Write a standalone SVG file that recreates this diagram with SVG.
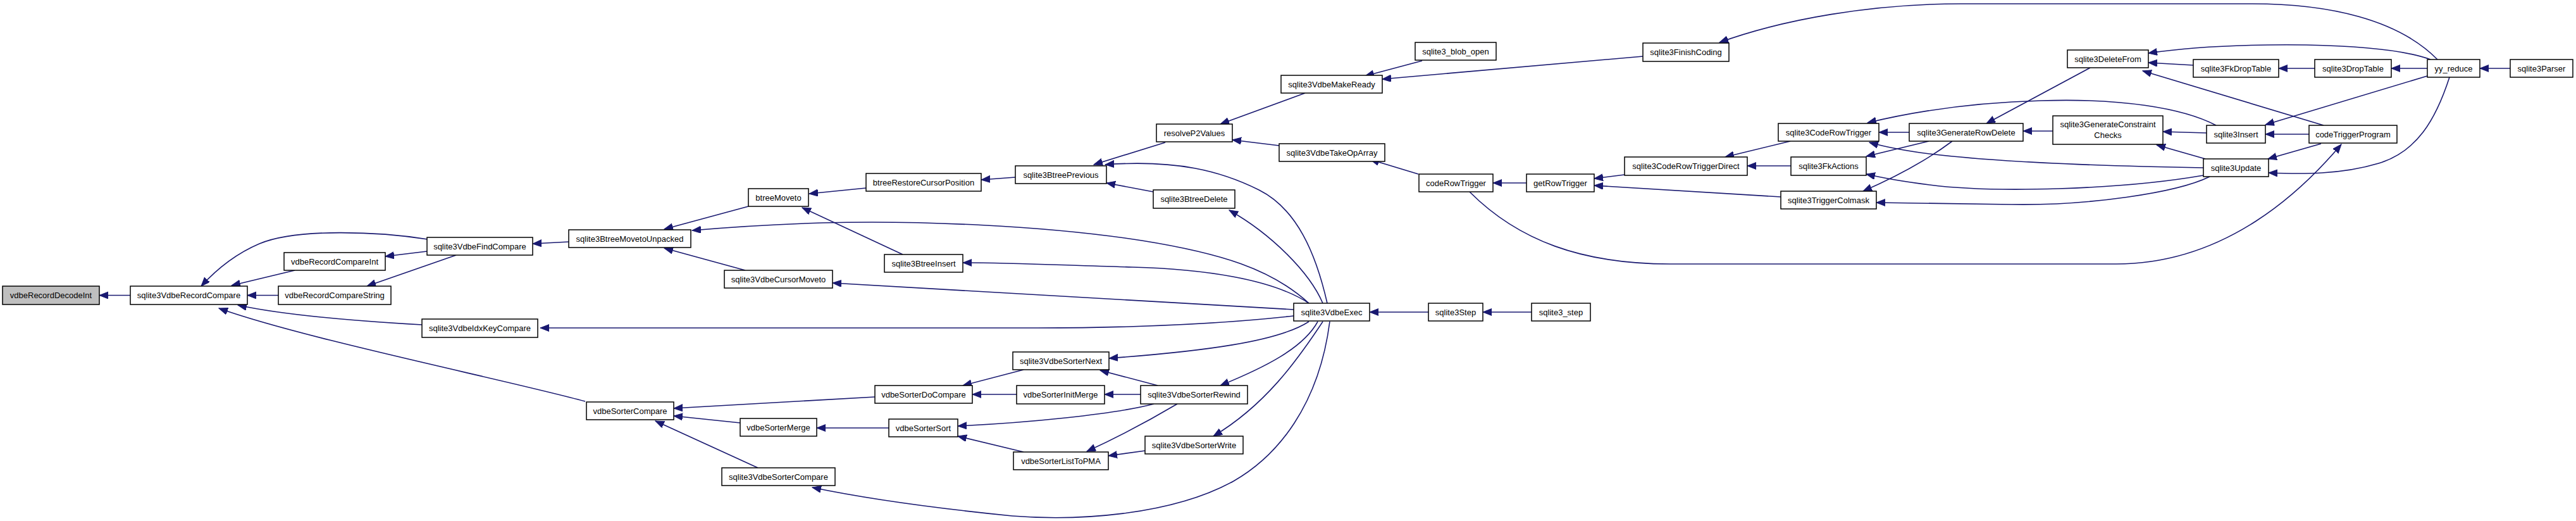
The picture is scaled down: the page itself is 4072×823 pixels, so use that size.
<svg xmlns="http://www.w3.org/2000/svg" width="4072" height="823" viewBox="0 0 4072 823">
<style>
.n rect{fill:#fff;stroke:#000;stroke-width:1.5}
.n.cur rect{fill:#bfbfbf}
.n text{font-family:"Liberation Sans",Arial,Helvetica,sans-serif;font-size:13px;fill:#000;text-anchor:middle}
#edges path{fill:none;stroke:#191970;stroke-width:1.6;marker-end:url(#ah)}
</style>
<defs>
<marker id="ah" markerUnits="userSpaceOnUse" markerWidth="15" markerHeight="12" refX="14" refY="5.5" orient="auto">
<path d="M0,0 L14,5.5 L0,11 z" fill="#191970" stroke="#191970" stroke-width="1"/>
</marker>
</defs>
<rect width="4072" height="823" fill="#fff"/>
<g id="edges">
<path d="M206,466.5 L157,466.5"/>
<path d="M676,378 C600,366 470,360 410,385 C370,402 340,428 318,452"/>
<path d="M466,427 L366,451"/>
<path d="M440,466.5 L391,466.5"/>
<path d="M675,397 L609,405"/>
<path d="M721,403 L580,452"/>
<path d="M667,513 C560,507 450,498 376,482"/>
<path d="M925,634 C800,600 480,535 346,487"/>
<path d="M899,382 L842,385"/>
<path d="M1183,326 L1050,362"/>
<path d="M1178,427 L1050,392"/>
<path d="M2069,479 C2010,425 1930,400 1805,380 C1650,356 1450,348 1300,352 C1200,355 1140,360 1094,364"/>
<path d="M1369,297 L1279,306"/>
<path d="M1427,402 L1268,328"/>
<path d="M1605,280 L1551,284"/>
<path d="M1842,225 L1729,260"/>
<path d="M2098,479 C2080,400 2050,330 1990,300 C1930,270 1860,252 1747,260"/>
<path d="M1823,303 L1749,289"/>
<path d="M2091,479 C2070,430 2010,370 1943,332"/>
<path d="M2063,147 L1929,196"/>
<path d="M2022,230 L1948,221"/>
<path d="M2248,96 L2158,120"/>
<path d="M2597,89 L2185,125"/>
<path d="M3853,94 C3790,30 3680,6 3560,6 L3100,6 C2960,6 2820,30 2718,67"/>
<path d="M2242,275 L2166,252"/>
<path d="M2413,289 L2360,289"/>
<path d="M2568,276 L2520,282"/>
<path d="M2815,311 L2520,293"/>
<path d="M2830,223 L2727,248"/>
<path d="M2831,262 L2762,262"/>
<path d="M3018,209 L2970,209"/>
<path d="M3503,198 C3450,170 3350,155 3227,159 C3120,162 3030,175 2952,194"/>
<path d="M3483,265 C3300,262 3150,255 3050,243 C3010,238 2980,232 2955,225"/>
<path d="M3049,223 L2950,247"/>
<path d="M3483,277 C3350,300 3150,305 3050,292 C3010,287 2980,282 2950,275"/>
<path d="M3086,223 Q3030,265 2945,302"/>
<path d="M3493,279 C3440,305 3300,325 3180,323 C3080,322 3010,320 2966,320"/>
<path d="M3304,107 L3140,195"/>
<path d="M3245,207 L3198,207"/>
<path d="M3488,210 L3419,208"/>
<path d="M3486,251 L3409,229"/>
<path d="M3842,94 C3790,75 3700,72 3646,71 C3560,70 3470,73 3396,84"/>
<path d="M3467,103 L3396,99"/>
<path d="M3673,198 L3387,112"/>
<path d="M3659,108 L3602,108"/>
<path d="M3837,108 L3780,108"/>
<path d="M3968,108 L3920,108"/>
<path d="M3837,120 L3581,197"/>
<path d="M3650,212 L3581,212"/>
<path d="M3669,227 L3585,251"/>
<path d="M3872,122 C3850,190 3820,240 3760,258 C3700,276 3640,275 3586,273"/>
<path d="M2323,303 C2400,380 2500,417 2640,417 L3345,417 C3520,417 3640,300 3701,228"/>
<path d="M2069,479 C2010,440 1900,425 1790,422 C1680,419 1600,415 1522,415"/>
<path d="M2045,489 L1316,447"/>
<path d="M2045,499 C1900,515 1760,518 1640,518 L854,518"/>
<path d="M2258,493 L2165,493"/>
<path d="M2421,493 L2344,493"/>
<path d="M2069,508 C2020,540 1900,555 1753,566"/>
<path d="M2083,508 C2060,550 2000,580 1929,609"/>
<path d="M2091,508 C2050,570 2000,640 1918,689"/>
<path d="M2102,508 C2085,640 2020,720 1950,760 C1850,815 1700,823 1600,815 C1500,805 1380,790 1284,770"/>
<path d="M1618,584 L1522,609"/>
<path d="M1830,609 L1739,585"/>
<path d="M1607,623 L1537,623"/>
<path d="M1803,623 L1746,623"/>
<path d="M1824,638 C1760,655 1620,668 1514,673"/>
<path d="M1861,638 Q1790,680 1718,713"/>
<path d="M1618,714 L1514,689"/>
<path d="M1810,712 L1752,720"/>
<path d="M1383,627 L1065,645"/>
<path d="M1170,668 L1065,657"/>
<path d="M1198,739 L1036,665"/>
<path d="M1405,676 L1291,676"/>
</g>
<g id="n1" class="n cur"><rect x="4" y="452" width="153" height="29"/><text x="80.5" y="471">vdbeRecordDecodeInt</text></g>
<g id="n2" class="n"><rect x="206" y="452" width="185" height="29"/><text x="298.5" y="471">sqlite3VdbeRecordCompare</text></g>
<g id="n3" class="n"><rect x="449" y="399" width="160" height="28"/><text x="529" y="417.5">vdbeRecordCompareInt</text></g>
<g id="n4" class="n"><rect x="440" y="452" width="178" height="29"/><text x="529" y="471">vdbeRecordCompareString</text></g>
<g id="n5" class="n"><rect x="675" y="375" width="167" height="28"/><text x="758.5" y="393.5">sqlite3VdbeFindCompare</text></g>
<g id="n6" class="n"><rect x="667" y="504" width="183" height="29"/><text x="758.5" y="523">sqlite3VdbeIdxKeyCompare</text></g>
<g id="n7" class="n"><rect x="899" y="363" width="193" height="28"/><text x="995.5" y="381.5">sqlite3BtreeMovetoUnpacked</text></g>
<g id="n8" class="n"><rect x="1183" y="298" width="95" height="28"/><text x="1230.5" y="316.5">btreeMoveto</text></g>
<g id="n9" class="n"><rect x="1145" y="427" width="171" height="28"/><text x="1230.5" y="445.5">sqlite3VdbeCursorMoveto</text></g>
<g id="n10" class="n"><rect x="1369" y="274" width="182" height="28"/><text x="1460" y="292.5">btreeRestoreCursorPosition</text></g>
<g id="n11" class="n"><rect x="1398" y="402" width="124" height="28"/><text x="1460" y="420.5">sqlite3BtreeInsert</text></g>
<g id="n12" class="n"><rect x="1605" y="262" width="144" height="28"/><text x="1677" y="280.5">sqlite3BtreePrevious</text></g>
<g id="n13" class="n"><rect x="1823" y="300" width="129" height="29"/><text x="1887.5" y="319">sqlite3BtreeDelete</text></g>
<g id="n14" class="n"><rect x="1828" y="196" width="120" height="28"/><text x="1888" y="214.5">resolveP2Values</text></g>
<g id="n15" class="n"><rect x="2025" y="119" width="160" height="28"/><text x="2105" y="137.5">sqlite3VdbeMakeReady</text></g>
<g id="n16" class="n"><rect x="2022" y="227" width="167" height="28"/><text x="2105.5" y="245.5">sqlite3VdbeTakeOpArray</text></g>
<g id="n17" class="n"><rect x="2237" y="67" width="128" height="28"/><text x="2301" y="85.5">sqlite3_blob_open</text></g>
<g id="n18" class="n"><rect x="2597" y="68" width="136" height="29"/><text x="2665" y="87">sqlite3FinishCoding</text></g>
<g id="n19" class="n"><rect x="2243" y="275" width="117" height="28"/><text x="2301.5" y="293.5">codeRowTrigger</text></g>
<g id="n20" class="n"><rect x="2413" y="275" width="107" height="28"/><text x="2466.5" y="293.5">getRowTrigger</text></g>
<g id="n21" class="n"><rect x="2568" y="248" width="194" height="29"/><text x="2665" y="267">sqlite3CodeRowTriggerDirect</text></g>
<g id="n22" class="n"><rect x="2811" y="195" width="159" height="28"/><text x="2890.5" y="213.5">sqlite3CodeRowTrigger</text></g>
<g id="n23" class="n"><rect x="2831" y="248" width="119" height="29"/><text x="2890.5" y="267">sqlite3FkActions</text></g>
<g id="n24" class="n"><rect x="2815" y="302" width="151" height="28"/><text x="2890.5" y="320.5">sqlite3TriggerColmask</text></g>
<g id="n25" class="n"><rect x="3018" y="195" width="180" height="28"/><text x="3108" y="213.5">sqlite3GenerateRowDelete</text></g>
<g id="n26" class="n"><rect x="3268" y="79" width="128" height="28"/><text x="3332" y="97.5">sqlite3DeleteFrom</text></g>
<g id="n27" class="n"><rect x="3245" y="183" width="174" height="45"/><text x="3332" y="201">sqlite3GenerateConstraint</text><text x="3332" y="218">Checks</text></g>
<g id="n28" class="n"><rect x="3488" y="198" width="93" height="28"/><text x="3534.5" y="216.5">sqlite3Insert</text></g>
<g id="n29" class="n"><rect x="3483" y="251" width="103" height="28"/><text x="3534.5" y="269.5">sqlite3Update</text></g>
<g id="n30" class="n"><rect x="3467" y="94" width="135" height="28"/><text x="3534.5" y="112.5">sqlite3FkDropTable</text></g>
<g id="n31" class="n"><rect x="3659" y="94" width="121" height="28"/><text x="3719.5" y="112.5">sqlite3DropTable</text></g>
<g id="n32" class="n"><rect x="3650" y="198" width="139" height="28"/><text x="3719.5" y="216.5">codeTriggerProgram</text></g>
<g id="n33" class="n"><rect x="3837" y="94" width="83" height="28"/><text x="3878.5" y="112.5">yy_reduce</text></g>
<g id="n34" class="n"><rect x="3968" y="94" width="99" height="28"/><text x="4017.5" y="112.5">sqlite3Parser</text></g>
<g id="n35" class="n"><rect x="2045" y="479" width="120" height="28"/><text x="2105" y="497.5">sqlite3VdbeExec</text></g>
<g id="n36" class="n"><rect x="2258" y="479" width="86" height="28"/><text x="2301" y="497.5">sqlite3Step</text></g>
<g id="n37" class="n"><rect x="2421" y="479" width="93" height="28"/><text x="2467.5" y="497.5">sqlite3_step</text></g>
<g id="n38" class="n"><rect x="927" y="635" width="138" height="28"/><text x="996" y="653.5">vdbeSorterCompare</text></g>
<g id="n39" class="n"><rect x="1170" y="661" width="121" height="28"/><text x="1230.5" y="679.5">vdbeSorterMerge</text></g>
<g id="n40" class="n"><rect x="1141" y="739" width="179" height="28"/><text x="1230.5" y="757.5">sqlite3VdbeSorterCompare</text></g>
<g id="n41" class="n"><rect x="1383" y="609" width="154" height="28"/><text x="1460" y="627.5">vdbeSorterDoCompare</text></g>
<g id="n42" class="n"><rect x="1601" y="556" width="152" height="28"/><text x="1677" y="574.5">sqlite3VdbeSorterNext</text></g>
<g id="n43" class="n"><rect x="1607" y="609" width="139" height="29"/><text x="1676.5" y="628">vdbeSorterInitMerge</text></g>
<g id="n44" class="n"><rect x="1803" y="609" width="169" height="29"/><text x="1887.5" y="628">sqlite3VdbeSorterRewind</text></g>
<g id="n45" class="n"><rect x="1405" y="662" width="109" height="28"/><text x="1459.5" y="680.5">vdbeSorterSort</text></g>
<g id="n46" class="n"><rect x="1602" y="714" width="150" height="28"/><text x="1677" y="732.5">vdbeSorterListToPMA</text></g>
<g id="n47" class="n"><rect x="1810" y="689" width="155" height="28"/><text x="1887.5" y="707.5">sqlite3VdbeSorterWrite</text></g>
</svg>
